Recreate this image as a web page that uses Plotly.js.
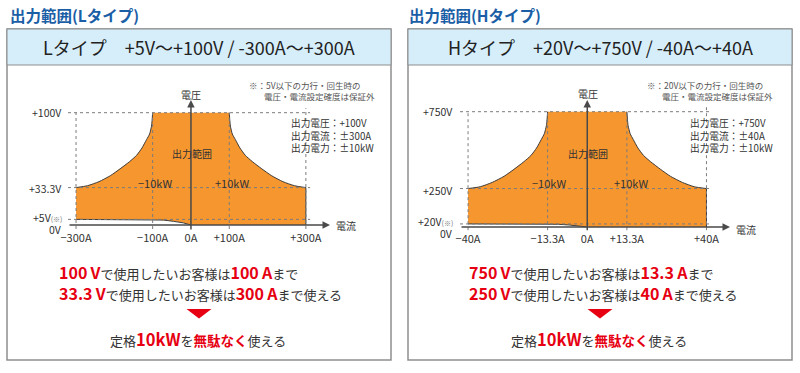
<!DOCTYPE html>
<html><head><meta charset="utf-8">
<script src="https://cdn.plot.ly/plotly-3.0.1.min.js"></script>
<style>html,body{margin:0;padding:0;background:#fff}#chart{width:800px;height:373px}</style>
</head><body><div id="chart"></div>
<script>
// ---------- Lタイプ data ----------
const lTitle = '出力範囲(Lタイプ)';
const lHeader = 'Lタイプ　+5V～+100V / -300A～+300A';
const lCurrentTicks = [-300, -100, 0, 100, 300];
const lCurrentLabels = ['−300A', '−100A', '0A', '+100A', '+300A'];
const lVoltTicks = [100, 33.3, 5, 0];
const lVoltLabels = ['+100V', '+33.3V', '+5V<span style="font-size:7px;color:#777">(※)</span>', '0V'];
const lPowerI = [100, 101.5, 103, 108, 116, 128, 142, 160, 185, 210, 240, 270, 300];   // +10kW edge (A)
const lPowerV = [100, 93, 88, 81, 76, 68.5, 62, 56.5, 50, 44, 38.6, 35, 33.3];         // (V)
const lLowI = [-100, -72, -46, -20, 0];
const lLowV = [5, 4.4, 3.3, 1.9, 0];
const lSpec = ['出力電圧：+100V', '出力電流：±300A', '出力電力：±10kW'];
const lNote = ['※：5V以下の力行・回生時の', '電圧・電流設定確度は保証外'];
const lMsgV = ['100\u2009V', '33.3\u2009V'];
const lMsgA = ['100\u2009A', '300\u2009A'];

// ---------- Hタイプ data ----------
const hTitle = '出力範囲(Hタイプ)';
const hHeader = 'Hタイプ　+20V～+750V / -40A～+40A';
const hCurrentTicks = [-40, -13.3, 0, 13.3, 40];
const hCurrentLabels = ['−40A', '−13.3A', '0A', '+13.3A', '+40A'];
const hVoltTicks = [750, 250, 20, 0];
const hVoltLabels = ['+750V', '+250V', '+20V<span style="font-size:7px;color:#777">(※)</span>', '0V'];
const hPowerI = [13.3, 13.5, 13.7, 14.4, 15.4, 17.0, 18.9, 21.3, 24.6, 27.9, 31.9, 35.9, 40];
const hPowerV = [750, 697, 660, 607, 570, 514, 465, 424, 375, 330, 290, 262, 250];
const hLowI = [-13.3, -9.6, -6.1, -2.7, 0];
const hLowV = [20, 17.6, 13.2, 7.6, 0];
const hSpec = ['出力電圧：+750V', '出力電流：±40A', '出力電力：±10kW'];
const hNote = ['※：20V以下の力行・回生時の', '電圧・電流設定確度は保証外'];
const hMsgV = ['750\u2009V', '250\u2009V'];
const hMsgA = ['13.3\u2009A', '40\u2009A'];

const regionLabel = '出力範囲';
const powerLabels = ['−10kW', '+10kW'];
const axisLabels = ['電流', '電圧'];

// ---------- style ----------
const FONT = '"Noto Sans CJK JP", "Noto Sans", sans-serif';
const ORANGE = '#F6962F';
const RED = '#E60012';
const TXT = '#333333';
const px = x => x / 800;
const py = y => (373 - y) / 373;

function regionPoly(pI, pV, lowI, lowV) {
  const n = pI.length, maxI = pI[n - 1];
  const x = [], y = [];
  x.push(-maxI); y.push(lowV[0]);
  for (let i = n - 1; i >= 0; i--) { x.push(-pI[i]); y.push(pV[i]); }
  for (let i = 0; i < n; i++) { x.push(pI[i]); y.push(pV[i]); }
  x.push(maxI); y.push(0);
  for (let i = lowI.length - 1; i >= 0; i--) { x.push(lowI[i]); y.push(lowV[i]); }
  x.push(-maxI); y.push(lowV[0]);
  return { x, y };
}

const traces = [];
const shapes = [];
const annotations = [];

function buildPanel(cfg) {
  const { xa, ya, xr, yr, pI, pV, lowI, lowV, cTicks, vTicks, vLabels } = cfg;
  const n = pI.length, maxI = pI[n - 1], maxV = pV[0];
  const poly = regionPoly(pI, pV, lowI, lowV);
  const line = { color: '#3d3d3d', width: 1, shape: 'spline', smoothing: 0.6 };
  const straight = { color: '#3d3d3d', width: 1 };
  traces.push({ type: 'scatter', mode: 'lines', x: poly.x, y: poly.y, fill: 'toself',
    fillcolor: ORANGE, line: { width: 0 }, xaxis: xa, yaxis: ya, hoverinfo: 'skip', showlegend: false });
  traces.push({ type: 'scatter', mode: 'lines', x: pI.map(v => -v), y: pV, line, xaxis: xa, yaxis: ya, hoverinfo: 'skip', showlegend: false });
  traces.push({ type: 'scatter', mode: 'lines', x: pI, y: pV, line, xaxis: xa, yaxis: ya, hoverinfo: 'skip', showlegend: false });
  traces.push({ type: 'scatter', mode: 'lines', x: [-maxI].concat(lowI), y: [lowV[0]].concat(lowV), line: straight, xaxis: xa, yaxis: ya, hoverinfo: 'skip', showlegend: false });
  traces.push({ type: 'scatter', mode: 'lines', x: [maxI, maxI], y: [pV[n - 1], 0], line: straight, xaxis: xa, yaxis: ya, hoverinfo: 'skip', showlegend: false });

  const dot = { color: '#7c7c7c', width: 1, dash: 'dot' };
  vTicks.forEach(v => {
    if (v === 0) return;
    shapes.push({ type: 'line', xref: xa, yref: ya, x0: xr[0], x1: maxI * 1.037, y0: v, y1: v, line: dot, layer: 'above' });
  });
  cTicks.forEach(c => {
    if (c === 0) return;
    shapes.push({ type: 'line', xref: xa, yref: ya, x0: c, x1: c, y0: yr[0] * 0.8, y1: c === maxI ? maxV * 1.04 : maxV, line: dot, layer: 'above' });
  });
  annotations.push({ xref: xa, yref: ya, axref: xa, ayref: ya, x: xr[1], y: 0, ax: xr[0], ay: 0, text: '',
    showarrow: true, arrowhead: 2, arrowsize: 1, arrowwidth: 1.5, arrowcolor: '#4a4a4a', standoff: 0, startstandoff: 0 });
  annotations.push({ xref: xa, yref: ya, axref: xa, ayref: ya, x: 0, y: yr[1], ax: 0, ay: yr[0] * 1.2, text: '',
    showarrow: true, arrowhead: 2, arrowsize: 1, arrowwidth: 1.5, arrowcolor: '#4a4a4a', standoff: 0, startstandoff: 0 });
  vTicks.forEach((v, i) => {
    annotations.push({ xref: 'paper', yref: ya, x: px(cfg.yLabelX), y: v, xanchor: 'right', yanchor: 'middle',
      yshift: cfg.shifts[i], text: vLabels[i], showarrow: false, font: { family: FONT, size: 10.5, color: TXT } });
  });
}

const lXR = [-321, 363], lYR = [-4.45, 111.3];
buildPanel({ xa: 'x', ya: 'y', xr: lXR, yr: lYR, pI: lPowerI, pV: lPowerV, lowI: lLowI, lowV: lLowV,
  cTicks: lCurrentTicks, vTicks: lVoltTicks, vLabels: lVoltLabels, yLabelX: 64, shifts: [0, -1, 2, -4.5] });
const hXR = [-42.7, 47.9], hYR = [-26, 826];
buildPanel({ xa: 'x2', ya: 'y2', xr: hXR, yr: hYR, pI: hPowerI, pV: hPowerV, lowI: hLowI, lowV: hLowV,
  cTicks: hCurrentTicks, vTicks: hVoltTicks, vLabels: hVoltLabels, yLabelX: 455, shifts: [0, -2, 2.5, -6] });

function frame(x0, x1) {
  shapes.push({ type: 'rect', xref: 'paper', yref: 'paper', x0: px(x0), x1: px(x1), y0: py(360), y1: py(29),
    line: { color: '#8e8e8e', width: 1.5 }, fillcolor: '#ffffff', layer: 'below' });
  shapes.push({ type: 'rect', xref: 'paper', yref: 'paper', x0: px(x0), x1: px(x1), y0: py(65), y1: py(29),
    line: { color: '#8e8e8e', width: 1 }, fillcolor: '#d6eefa', layer: 'below' });
}
frame(7, 391);
frame(408, 792);

function txt(x, y, text, opts) {
  annotations.push(Object.assign({ xref: 'paper', yref: 'paper', x: px(x), y: py(y), text, showarrow: false,
    xanchor: 'center', yanchor: 'middle', font: { family: FONT, size: 11, color: TXT } }, opts || {}));
}
const redSpan = (s, size) => `<span style="color:${RED};font-size:${size}px"><b>${s}</b></span>`;

function panelTexts(c, d) {
  txt(c.titleX, 15, '<b>' + d.title + '</b>', { xanchor: 'left', font: { family: FONT, size: 15.5, color: '#1a5ea6' } });
  txt(c.center, 47, d.header, { font: { family: FONT, size: 18, color: '#222' } });
  txt(c.noteX1, 85, d.note[0], { xanchor: 'left', font: { family: FONT, size: 8.5, color: '#555' } });
  txt(c.noteX2, 96, d.note[1], { xanchor: 'left', font: { family: FONT, size: 8.5, color: '#555' } });
  txt(c.specX, 135, d.spec.join('<br>'), { xanchor: 'left', align: 'left', font: { family: FONT, size: 9.7, color: TXT } });
  txt(c.ampX, c.ampY, axisLabels[0], { font: { family: FONT, size: 10, color: TXT } });
  txt(c.voltX, c.voltY, axisLabels[1], { font: { family: FONT, size: 10, color: TXT } });
  txt(c.zeroX, 153, regionLabel, { font: { family: FONT, size: 10, color: TXT } });
  txt(c.minusX, 183, powerLabels[0], { font: { family: FONT, size: 11, color: TXT } });
  txt(c.plusX, 183, powerLabels[1], { font: { family: FONT, size: 11, color: TXT } });
  txt(c.msgX, 271.5, redSpan(d.msgV[0], 16) + 'で使用したいお客様は' + redSpan(d.msgA[0], 16) + 'まで',
    { xanchor: 'left', font: { family: FONT, size: 13, color: TXT } });
  txt(c.msgX, 292.5, redSpan(d.msgV[1], 16) + 'で使用したいお客様は' + redSpan(d.msgA[1], 16) + 'まで使える',
    { xanchor: 'left', font: { family: FONT, size: 13, color: TXT } });
  shapes.push({ type: 'path', xref: 'paper', yref: 'paper',
    path: `M ${px(c.center - 12.5)} ${py(309)} L ${px(c.center + 12.5)} ${py(309)} L ${px(c.center)} ${py(318.5)} Z`,
    fillcolor: RED, line: { width: 0 } });
  txt(c.center - 1, 339, '定格' + redSpan('10kW', 16.5) + 'を' + redSpan('無駄なく', 13.5) + '使える',
    { font: { family: FONT, size: 13, color: TXT } });
}

panelTexts({ titleX: 8, center: 199, noteX1: 247, noteX2: 262, specX: 289, ampX: 346, ampY: 226, voltX: 191, voltY: 95,
  zeroX: 192, minusX: 155, plusX: 232, msgX: 57 },
  { title: lTitle, header: lHeader, note: lNote, spec: lSpec, msgV: lMsgV, msgA: lMsgA });
panelTexts({ titleX: 407, center: 600, noteX1: 645, noteX2: 660, specX: 688, ampX: 746, ampY: 229, voltX: 588, voltY: 93,
  zeroX: 588, minusX: 549, plusX: 631, msgX: 467 },
  { title: hTitle, header: hHeader, note: hNote, spec: hSpec, msgV: hMsgV, msgA: hMsgA });

const axisCommon = { showgrid: false, zeroline: false, showline: false, ticks: '', fixedrange: true,
  tickfont: { family: FONT, size: 11, color: TXT } };

const layout = {
  width: 800, height: 373, margin: { l: 0, r: 0, t: 0, b: 0 },
  paper_bgcolor: '#ffffff', plot_bgcolor: 'rgba(0,0,0,0)', showlegend: false,
  xaxis: Object.assign({}, axisCommon, { domain: [px(68), px(330)], range: lXR, tickmode: 'array',
    tickvals: lCurrentTicks, ticktext: lCurrentLabels, anchor: 'y' }),
  yaxis: Object.assign({}, axisCommon, { domain: [py(230), py(100)], range: lYR, showticklabels: false, anchor: 'x' }),
  xaxis2: Object.assign({}, axisCommon, { domain: [px(460), px(730)], range: hXR, tickmode: 'array',
    tickvals: hCurrentTicks, ticktext: hCurrentLabels, anchor: 'y2' }),
  yaxis2: Object.assign({}, axisCommon, { domain: [py(231), py(100)], range: hYR, showticklabels: false, anchor: 'x2' }),
  shapes, annotations
};

Plotly.newPlot('chart', traces, layout, { displayModeBar: false, staticPlot: true });
</script>
</body></html>
